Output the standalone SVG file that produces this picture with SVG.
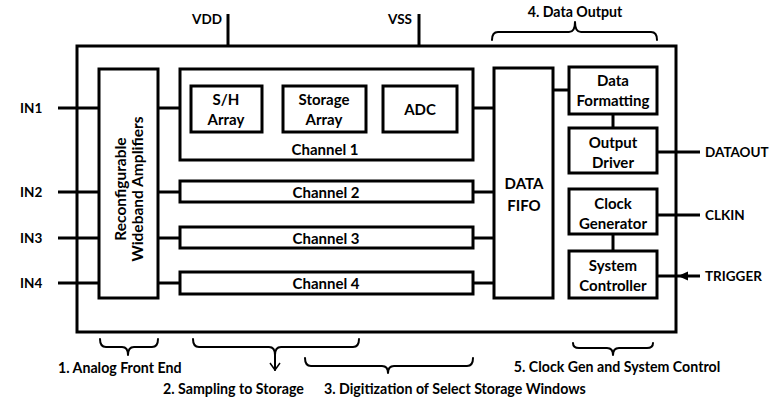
<svg xmlns="http://www.w3.org/2000/svg" width="780" height="398" viewBox="0 0 780 398">
  <style>
    .box { fill: #fff; stroke: #000; stroke-width: 3; }
    .wire { fill: none; stroke: #000; stroke-width: 3; }
    .brace { fill: none; stroke: #000; stroke-width: 2; stroke-linejoin: round; stroke-linecap: round; }
    text { font-family: "Lato", "Liberation Sans", Arial, sans-serif; font-weight: bold; fill: #000; }
    .lbl { font-size: 15px; text-anchor: middle; dominant-baseline: central; }
    .pin { font-size: 13.5px; dominant-baseline: central; }
    .cap { font-size: 14.2px; dominant-baseline: central; }
  </style>
  <defs>
    <marker id="arrowIn" markerWidth="10" markerHeight="10" refX="9" refY="5" orient="auto" markerUnits="userSpaceOnUse">
      <path d="M0,0.5 L10,5 L0,9.5 Z" fill="#000"/>
    </marker>
    <marker id="arrowOpen" markerWidth="12" markerHeight="12" refX="6" refY="11" orient="0" markerUnits="userSpaceOnUse">
      <path d="M1,4 L6,11 L11,4" fill="none" stroke="#000" stroke-width="1.5"/>
    </marker>
  </defs>

  <rect width="780" height="398" fill="#fff"/>

  <!-- chip outline and supply pins -->
  <g id="chip">
    <rect class="box" x="77" y="46" width="599" height="286" fill="none"/>
    <line class="wire" x1="228" y1="14" x2="228" y2="46"/>
    <line class="wire" x1="419" y1="14" x2="419" y2="46"/>
    <text class="pin" x="192" y="19">VDD</text>
    <text class="pin" x="388" y="19">VSS</text>
  </g>

  <!-- connectors -->
  <g id="connectors">
    <!-- inputs into amplifiers -->
    <line class="wire" x1="58" y1="108" x2="99" y2="108"/>
    <line class="wire" x1="58" y1="192" x2="99" y2="192"/>
    <line class="wire" x1="58" y1="238" x2="99" y2="238"/>
    <line class="wire" x1="58" y1="283" x2="99" y2="283"/>
    <!-- amplifiers to channels -->
    <line class="wire" x1="158" y1="108" x2="191" y2="108"/>
    <line class="wire" x1="158" y1="192" x2="180" y2="192"/>
    <line class="wire" x1="158" y1="238" x2="180" y2="238"/>
    <line class="wire" x1="158" y1="283" x2="180" y2="283"/>
    <!-- channel 1 chain -->
    <line class="wire" x1="262" y1="108" x2="283" y2="108"/>
    <line class="wire" x1="366" y1="108" x2="383" y2="108"/>
    <line class="wire" x1="457" y1="108" x2="494" y2="108"/>
    <!-- channels to FIFO -->
    <line class="wire" x1="473" y1="192" x2="494" y2="192"/>
    <line class="wire" x1="473" y1="238" x2="494" y2="238"/>
    <line class="wire" x1="473" y1="283" x2="494" y2="283"/>
    <!-- FIFO to output path -->
    <line class="wire" x1="553" y1="90" x2="569" y2="90"/>
    <line class="wire" x1="613" y1="114" x2="613" y2="128"/>
    <line class="wire" x1="657" y1="152" x2="700" y2="152"/>
    <!-- clock and control -->
    <line class="wire" x1="613" y1="234" x2="613" y2="251"/>
    <line class="wire" x1="657" y1="215" x2="700" y2="215"/>
    <line class="wire" x1="657" y1="276" x2="679" y2="276"/>
    <line class="wire" x1="700" y1="276" x2="679" y2="276" marker-end="url(#arrowIn)"/>
  </g>

  <!-- pin labels -->
  <g id="pins">
    <text class="pin" x="20" y="108">IN1</text>
    <text class="pin" x="20" y="192">IN2</text>
    <text class="pin" x="20" y="238">IN3</text>
    <text class="pin" x="20" y="283">IN4</text>
    <text class="pin" x="705" y="152">DATAOUT</text>
    <text class="pin" x="705" y="215">CLKIN</text>
    <text class="pin" x="705" y="276">TRIGGER</text>
  </g>

  <g id="amplifiers">
    <rect class="box" x="99" y="69" width="59" height="229"/>
    <text class="lbl" transform="translate(120 189) rotate(-90)" style="font-size:15.5px">Reconfigurable</text>
    <text class="lbl" transform="translate(137 189) rotate(-90)" style="font-size:15.5px">Wideband Amplifiers</text>
  </g>

  <g id="channel1">
    <rect class="box" x="180" y="69" width="293" height="91" fill="none"/>
    <text class="lbl" x="325" y="149">Channel 1</text>
  </g>
  <g id="sh-array">
    <rect class="box" x="191" y="86" width="71" height="46"/>
    <text class="lbl" x="226" y="99">S/H</text>
    <text class="lbl" x="226" y="119">Array</text>
  </g>
  <g id="storage-array">
    <rect class="box" x="283" y="86" width="83" height="46"/>
    <text class="lbl" x="324" y="99">Storage</text>
    <text class="lbl" x="324" y="119">Array</text>
  </g>
  <g id="adc">
    <rect class="box" x="383" y="86" width="74" height="46"/>
    <text class="lbl" x="420" y="109">ADC</text>
  </g>

  <g id="channel2">
    <rect class="box" x="180" y="181" width="293" height="21"/>
    <text class="lbl" x="326" y="191.5">Channel 2</text>
  </g>
  <g id="channel3">
    <rect class="box" x="180" y="227" width="293" height="21"/>
    <text class="lbl" x="326" y="237.5">Channel 3</text>
  </g>
  <g id="channel4">
    <rect class="box" x="180" y="272" width="293" height="22"/>
    <text class="lbl" x="326" y="283">Channel 4</text>
  </g>

  <g id="data-fifo">
    <rect class="box" x="494" y="68" width="59" height="230"/>
    <text class="lbl" x="524" y="183">DATA</text>
    <text class="lbl" x="524" y="205">FIFO</text>
  </g>

  <g id="data-formatting">
    <rect class="box" x="569" y="67" width="88" height="47"/>
    <text class="lbl" x="613" y="80">Data</text>
    <text class="lbl" x="613" y="100">Formatting</text>
  </g>
  <g id="output-driver">
    <rect class="box" x="569" y="128" width="88" height="45"/>
    <text class="lbl" x="613" y="142">Output</text>
    <text class="lbl" x="613" y="162">Driver</text>
  </g>
  <g id="clock-generator">
    <rect class="box" x="569" y="189" width="88" height="45"/>
    <text class="lbl" x="613" y="203">Clock</text>
    <text class="lbl" x="613" y="223">Generator</text>
  </g>
  <g id="system-controller">
    <rect class="box" x="569" y="251" width="88" height="47"/>
    <text class="lbl" x="613" y="265">System</text>
    <text class="lbl" x="613" y="285">Controller</text>
  </g>

  <!-- section braces and captions -->
  <g id="section-1">
    <path class="brace" d="M100,339 Q100,347 106,347 L122,347 Q128,347 128,355 Q128,347 134,347 L152,347 Q158,347 158,339"/>
    <text class="cap" x="58" y="367">1. Analog Front End</text>
  </g>
  <g id="section-2">
    <path class="brace" d="M193,339 Q193,347 199,347 L269,347 Q275,347 275,355 Q275,347 281,347 L353,347 Q359,347 359,339"/>
    <line class="brace" x1="275" y1="355" x2="275" y2="370" marker-end="url(#arrowOpen)"/>
    <text class="cap" x="163" y="388">2. Sampling to Storage</text>
  </g>
  <g id="section-3">
    <path class="brace" d="M305,358 Q305,366 311,366 L382,366 Q388,366 388,373 Q388,366 394,366 L467,366 Q473,366 473,358"/>
    <text class="cap" x="324" y="388">3. Digitization of Select Storage Windows</text>
  </g>
  <g id="section-4">
    <path class="brace" d="M492,40 Q492,32 498,32 L569,32 Q575,32 575,22 Q575,32 581,32 L651,32 Q657,32 657,40"/>
    <text class="cap" x="575" y="11" text-anchor="middle">4. Data Output</text>
  </g>
  <g id="section-5">
    <path class="brace" d="M573,343 Q573,348 579,348 L607,348 Q613,348 613,355 Q613,348 619,348 L647,348 Q653,348 653,343"/>
    <text class="cap" x="617" y="366" text-anchor="middle">5. Clock Gen and System Control</text>
  </g>
</svg>
